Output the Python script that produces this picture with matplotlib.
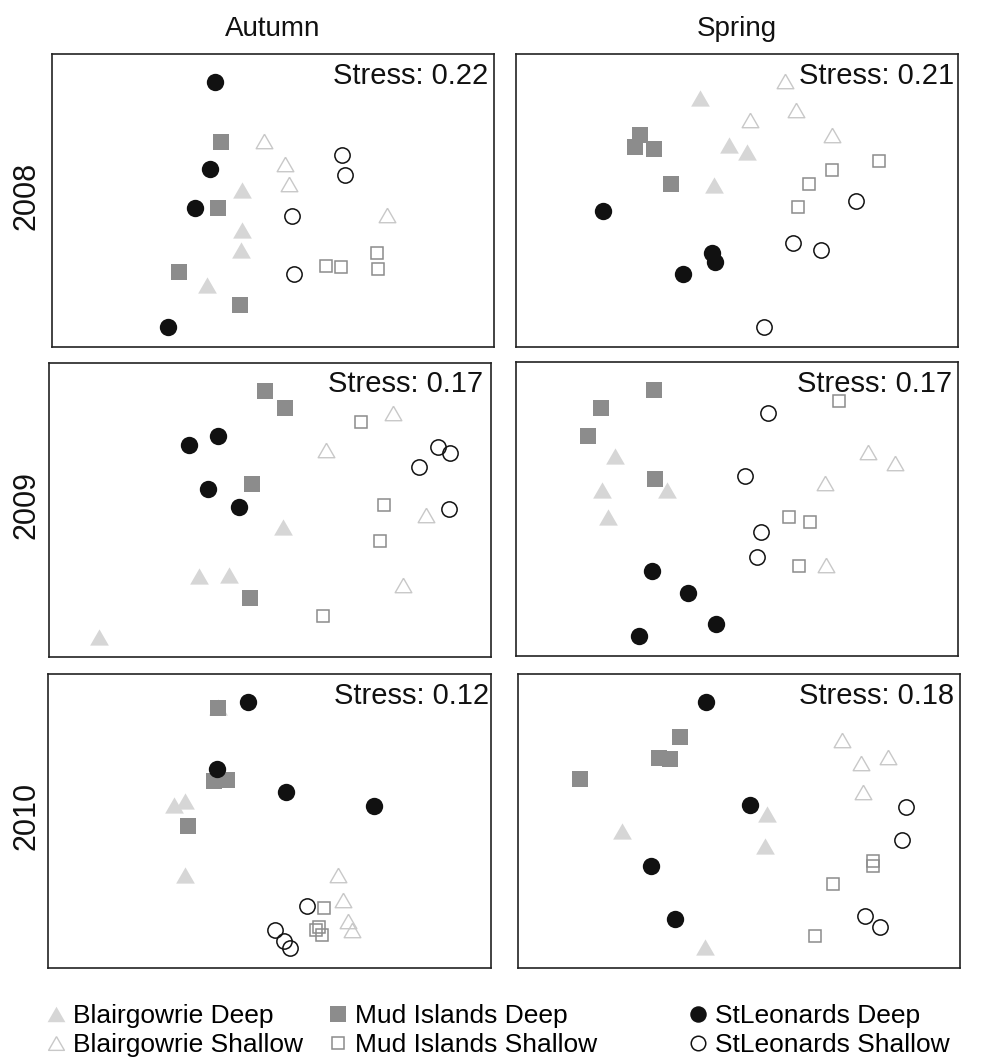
import matplotlib
matplotlib.use("Agg")
import matplotlib.pyplot as plt
from matplotlib.lines import Line2D
import numpy as np

plt.rcParams["font.family"] = ["Liberation Sans", "DejaVu Sans"]

# ---- NMDS ordination scores (arbitrary scaled units) per season/year panel ----
# groups: BD Blairgowrie Deep, BS Blairgowrie Shallow, MD Mud Islands Deep,
#         MS Mud Islands Shallow, SD StLeonards Deep, SS StLeonards Shallow
aut_2008 = {
    "BD": [(190, 157), (190, 117), (189, 97), (155, 62)],
    "BS": [(212, 206), (233, 183), (237, 163), (335, 132)],
    "MD": [(169, 205), (166, 139), (127, 75), (188, 42)],
    "MS": [(274, 81), (289, 80), (325, 94), (326, 78)],
    "SD": [(163, 265), (158, 178), (143, 139), (116, 20)],
    "SS": [(290, 192), (293, 172), (240, 131), (242, 73)],
}
spr_2008 = {
    "BD": [(184, 249), (213, 202), (231, 195), (198, 162)],
    "BS": [(269, 266), (280, 237), (234, 227), (316, 212)],
    "MD": [(124, 212), (119, 200), (138, 198), (155, 163)],
    "MS": [(363, 186), (316, 177), (293, 163), (282, 140)],
    "SD": [(87, 136), (196, 94), (199, 85), (167, 73)],
    "SS": [(340, 146), (277, 104), (305, 97), (248, 20)],
}
aut_2009 = {
    "BD": [(234, 130), (150, 81), (180, 82), (50, 20)],
    "BS": [(344, 244), (277, 207), (377, 142), (354, 72)],
    "MD": [(216, 266), (236, 249), (203, 173), (201, 59)],
    "MS": [(312, 235), (335, 152), (331, 116), (274, 41)],
    "SD": [(140, 212), (169, 221), (159, 168), (190, 150)],
    "SS": [(389, 210), (401, 204), (370, 190), (400, 148)],
}
spr_2009 = {
    "BD": [(99, 200), (86, 166), (151, 166), (92, 139)],
    "BS": [(352, 204), (379, 193), (309, 173), (310, 91)],
    "MD": [(138, 266), (85, 248), (72, 220), (139, 177)],
    "MS": [(323, 255), (273, 139), (294, 134), (283, 90)],
    "SD": [(136, 85), (172, 63), (200, 32), (123, 20)],
    "SS": [(252, 243), (229, 180), (245, 124), (241, 99)],
}
aut_2010 = {
    "BD": [(170, 261), (137, 167), (126, 163), (137, 93)],
    "BS": [(290, 93), (295, 68), (300, 47), (304, 38)],
    "MD": [(170, 260), (166, 187), (179, 188), (140, 142)],
    "MS": [(276, 60), (268, 38), (271, 41), (274, 33)],
    "SD": [(200, 266), (169, 199), (238, 176), (326, 162)],
    "SS": [(259, 62), (227, 38), (236, 27), (242, 20)],
}
spr_2010 = {
    "BD": [(249, 154), (247, 122), (104, 137), (187, 21)],
    "BS": [(324, 228), (343, 205), (370, 211), (345, 176)],
    "MD": [(162, 231), (141, 210), (152, 209), (62, 189)],
    "MS": [(355, 107), (355, 102), (315, 84), (297, 32)],
    "SD": [(188, 266), (232, 163), (133, 102), (157, 49)],
    "SS": [(388, 161), (384, 128), (347, 52), (362, 41)],
}

stress_values = ["0.22", "0.21", "0.17", "0.17", "0.12", "0.18"]
seasons = ["Autumn", "Spring"]
years = ["2008", "2009", "2010"]
group_labels = {
    "BD": "Blairgowrie Deep", "BS": "Blairgowrie Shallow",
    "MD": "Mud Islands Deep", "MS": "Mud Islands Shallow",
    "SD": "StLeonards Deep", "SS": "StLeonards Shallow",
}

# ---- styling ----
W, H = 1000, 1062
fig = plt.figure(figsize=(W / 100, H / 100), dpi=100)

tri = np.array([(0, 0.5), (-0.577, -0.5), (0.577, -0.5), (0, 0.5)])
LIGHT, MID, DARK = "#d6d6d6", "#8c8c8c", "#111111"
styles = {
    "BD": dict(marker=tri, ms=13.5, mfc=LIGHT, mec=LIGHT, mew=0),
    "BS": dict(marker=tri, ms=12.0, mfc="none", mec="#c8c8c8", mew=1.0),
    "MD": dict(marker="s", ms=12.0, mfc=MID, mec=MID, mew=0),
    "MS": dict(marker="s", ms=9.0, mfc="none", mec=MID, mew=1.1),
    "SD": dict(marker="o", ms=12.5, mfc=DARK, mec=DARK, mew=0),
    "SS": dict(marker="o", ms=11.0, mfc="none", mec=DARK, mew=1.1),
}
draw_order = ["BD", "BS", "MD", "MS", "SD", "SS"]

# panel frames in pixels: left, top, right, bottom
frames = [(52, 54, 494, 347), (516, 54, 958, 347),
          (49, 363, 491, 657), (516, 362, 958, 656),
          (48, 674, 491, 968), (518, 674, 960, 968)]
stress_inset = [6, 4, 8, 6, 2, 6]
panels = [aut_2008, spr_2008, aut_2009, spr_2009, aut_2010, spr_2010]

for i, (data, (l, t, r, b)) in enumerate(zip(panels, frames)):
    ax = fig.add_axes([l / W, 1 - b / H, (r - l) / W, (b - t) / H])
    for g in draw_order:
        pts = np.array(data[g])
        ax.plot(pts[:, 0], pts[:, 1], ls="none", **styles[g])
    ax.set_xlim(0, r - l)
    ax.set_ylim(0, b - t)
    ax.set_xticks([])
    ax.set_yticks([])
    for s in ax.spines.values():
        s.set_linewidth(1.2)
        s.set_color("#222222")
    ax.text(1 - stress_inset[i] / (r - l), 1 - 29.5 / (b - t),
            f"Stress: {stress_values[i]}", transform=ax.transAxes,
            ha="right", va="baseline", fontsize=21, color="#111111")

# column titles and row labels
for j, season in enumerate(seasons):
    l, t, r, b = frames[j]
    fig.text((l + r) / 2 / W, 1 - 36 / H, season, ha="center",
             va="baseline", fontsize=20, color="#111111")
for k, year in enumerate(years):
    l, t, r, b = frames[2 * k]
    fig.text(26 / W, 1 - ((t + b) / 2 - 5) / H, year, rotation=90,
             ha="center", va="center", fontsize=22, color="#111111")

# legend: three columns of two entries
legend_cols = [("BD", "BS"), ("MD", "MS"), ("SD", "SS")]
legend_left = [45, 327, 687]
for cols, x0 in zip(legend_cols, legend_left):
    handles = []
    for g in cols:
        st = dict(styles[g])
        st["ms"] = st["ms"] * 0.95
        handles.append(Line2D([], [], ls="none", label=group_labels[g], **st))
    fig.legend(handles=handles, loc="upper left",
               bbox_to_anchor=(x0 / W, 1 - 1004 / H), frameon=False,
               borderpad=0, borderaxespad=0, handlelength=0.8,
               handletextpad=0.26, labelspacing=0.18, fontsize=19)

fig.savefig("out.png", dpi=100)
